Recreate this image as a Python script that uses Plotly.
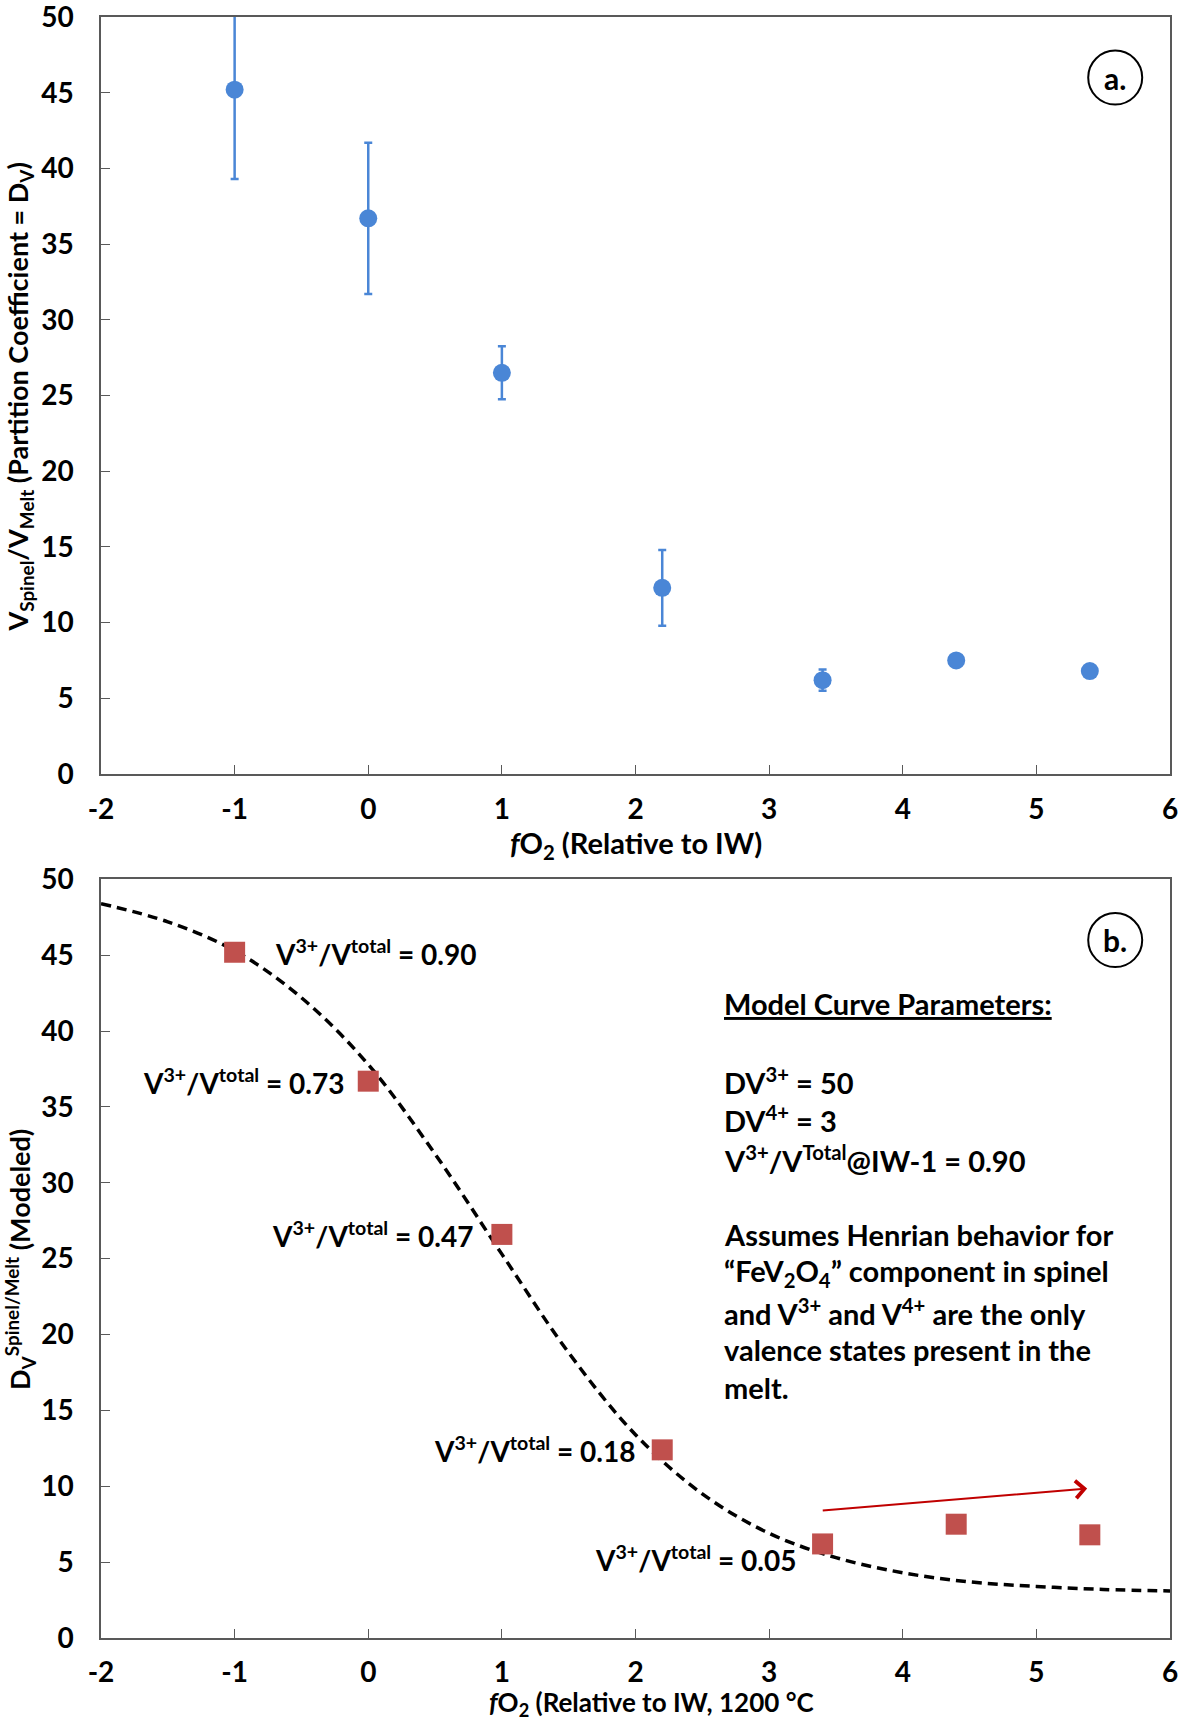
import plotly.graph_objects as go

# ---------------- data ----------------
fo2 = [-1, 0, 1, 2.2, 3.4, 4.4, 5.4]
d_measured = [45.2, 36.7, 26.5, 12.3, 6.2, 7.5, 6.8]
d_err = [5.9, 5.0, 1.75, 2.5, 0.7, 0.2, 0.4]
d_modeled = [45.2, 36.7, 26.6, 12.4, 6.2, 7.5, 6.8]

curve_x = [-2, -1.5, -1, -0.5, 0, 0.5, 1, 1.5, 2, 2.5, 3, 3.5, 4, 4.5, 5, 5.5, 6]
curve_y = [48.4, 47.2, 45.3, 42.2, 37.8, 31.9, 25.3, 18.8, 13.4, 9.5, 6.9, 5.3, 4.3, 3.7, 3.4, 3.2, 3.1]

ratio_labels = ["0.90", "0.73", "0.47", "0.18", "0.05"]

x_tickvals = [-2, -1, 0, 1, 2, 3, 4, 5, 6]
x_ticklabels = ["-2", "-1", "0", "1", "2", "3", "4", "5", "6"]
y_tickvals = [0, 5, 10, 15, 20, 25, 30, 35, 40, 45, 50]

# arrow (data coords in panel b)
arrow_start = (3.39, 8.4)
arrow_end = (5.38, 9.85)

FONT = "Lato"
BLUE = "#4A86D6"
RED = "#C0504D"
AX = "#595959"

fig = go.Figure()

# panel a
fig.add_trace(go.Scatter(
    x=fo2, y=d_measured, mode="markers", xaxis="x", yaxis="y",
    marker=dict(color=BLUE, size=18, symbol="circle"),
    error_y=dict(type="data", array=d_err, visible=True, color=BLUE, thickness=2.5, width=4),
    showlegend=False,
))

# panel b
fig.add_trace(go.Scatter(
    x=curve_x, y=curve_y, mode="lines", xaxis="x2", yaxis="y2",
    line=dict(color="black", width=3.5, dash="10px,6px", shape="spline"),
    showlegend=False,
))
fig.add_trace(go.Scatter(
    x=fo2, y=d_modeled, mode="markers", xaxis="x2", yaxis="y2",
    marker=dict(color=RED, size=21, symbol="square"),
    showlegend=False,
))

axis_common = dict(
    showline=True, linecolor=AX, linewidth=1.5, mirror=True,
    ticks="inside", ticklen=9, tickcolor=AX, tickwidth=1.2,
    showgrid=False, zeroline=False, automargin=False, ticklabeloverflow="allow",
    tickfont=dict(family=FONT, size=28, color="black", weight="bold"),
)

fig.update_layout(
    width=1185, height=1720,
    margin=dict(l=101, r=15, t=17, b=82),
    paper_bgcolor="white", plot_bgcolor="white",
    showlegend=False,
    xaxis=dict(domain=[0, 1], anchor="y", range=[-2, 6], tickvals=x_tickvals, ticktext=x_ticklabels,
               ticklabelstandoff=10, **axis_common),
    yaxis=dict(domain=[0.533, 1], anchor="x", range=[0, 50], tickvals=y_tickvals,
               ticklabelstandoff=20, **axis_common),
    xaxis2=dict(domain=[0, 1], anchor="y2", range=[-2, 6], tickvals=x_tickvals, ticktext=x_ticklabels,
                ticklabelstandoff=9, **axis_common),
    yaxis2=dict(domain=[0, 0.468], anchor="x2", range=[0, 50], tickvals=y_tickvals,
                ticklabelstandoff=20, **axis_common),
)

title_font = dict(family=FONT, size=28, color="black", weight="bold")

# axis titles (placed as paper annotations)
axis_titles = [
    ("<i>f</i>O<sub>2</sub> (Relative to IW)", 0.5, 0.4895, 0, 29),
    ("<i>f</i>O<sub>2</sub> (Relative to IW, 1200 °C", 0.515, -0.0405, 0, 26),
    ("V<sub>Spinel</sub>/V<sub>Melt</sub> (Partition Coefficient = D<sub>V</sub>)", -0.076, 0.7657, -90, 27),
    ("D<sub>V</sub><sup>Spinel/Melt</sup> (Modeled)", -0.076, 0.2337, -90, 27),
]
for txt, px, py, ang, fs in axis_titles:
    f = dict(title_font)
    f["size"] = fs
    fig.add_annotation(x=px, y=py, xref="paper", yref="paper", text=txt, showarrow=False,
                       textangle=ang, xanchor="center", yanchor="middle", font=f)

lab_font = dict(family=FONT, size=28, color="black", weight="bold")
blk_font = dict(family=FONT, size=29, color="black", weight="bold")

# V3+/Vtotal labels
shifts = [(38, 0, "left"), (-22, 0, "right"), (-27, 0, "right"), (-25, 0, "right"), (-25, -15, "right")]
for i, lab in enumerate(ratio_labels):
    xs, ys, anc = shifts[i]
    fig.add_annotation(
        x=fo2[i], y=d_modeled[i], xref="x2", yref="y2",
        text="V<sup>3+</sup>/V<sup>total</sup> = " + lab,
        showarrow=False, xanchor=anc, yanchor="middle", xshift=xs, yshift=ys,
        font=lab_font,
    )

# model text block
block = [
    ("Model Curve Parameters:", 41.8, True),
    ("DV<sup>3+</sup> = 50", 36.7, False),
    ("DV<sup>4+</sup> = 3", 34.2, False),
    ("V<sup>3+</sup>/V<sup>Total</sup>@IW-1 = 0.90", 31.6, False),
    ("Assumes Henrian behavior for", 26.6, False),
    ("“FeV<sub>2</sub>O<sub>4</sub>” component in spinel", 24.1, False),
    ("and V<sup>3+</sup> and V<sup>4+</sup> are the only", 21.5, False),
    ("valence states present in the", 19.0, False),
    ("melt.", 16.5, False),
]
for txt, yv, underline in block:
    f = dict(blk_font)
    if underline:
        f["lineposition"] = "under"
    fig.add_annotation(x=2.65, y=yv, xref="x2", yref="y2", text=txt, showarrow=False,
                       xanchor="left", yanchor="middle", font=f)

# red arrow
fig.add_annotation(
    x=arrow_end[0], y=arrow_end[1], ax=arrow_start[0], ay=arrow_start[1],
    xref="x2", yref="y2", axref="x2", ayref="y2",
    text="", showarrow=True, arrowhead=4, arrowsize=1.7, arrowwidth=2, arrowcolor="#C00000",
)

# panel letters in circles
for xr, yr, letter in [("x", "y", "a."), ("x2", "y2", "b.")]:
    fig.add_shape(type="circle", xref=xr, yref=yr, xsizemode="pixel", ysizemode="pixel",
                  xanchor=5.59, yanchor=46.0, x0=-27, x1=27, y0=-27, y1=27,
                  line=dict(color="black", width=2))
    fig.add_annotation(x=5.59, y=46.0, xref=xr, yref=yr, text=letter, showarrow=False,
                       font=dict(family=FONT, size=30, color="black", weight="bold"))

fig.write_html("out.html", config={"displayModeBar": False},
               post_script="document.body.style.margin='0';document.body.style.overflow='hidden';")
